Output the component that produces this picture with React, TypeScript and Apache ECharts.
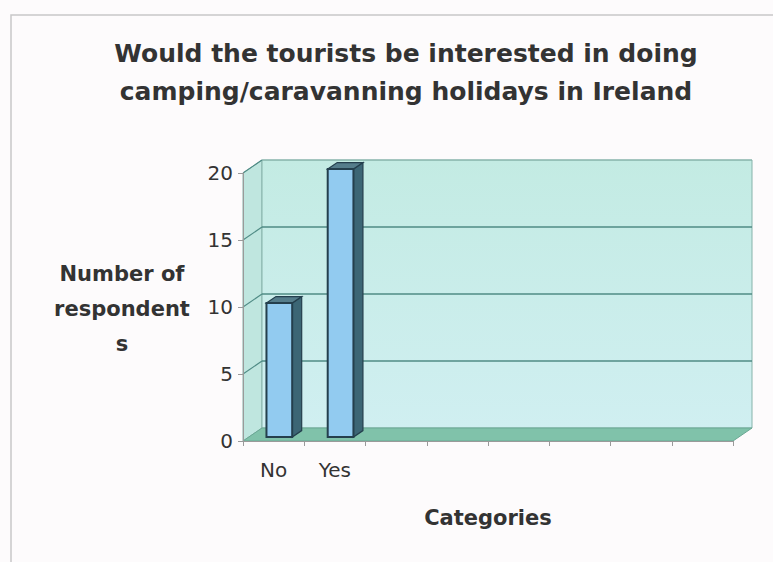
import React, { useEffect, useRef } from "react";
import * as echarts from "echarts";

const categories = ["No", "Yes", "", "", "", "", "", ""];
const respondents = [10, 20];
const yTicks = [0, 5, 10, 15, 20];
const titleLines = [
  "Would the tourists be interested in doing",
  "camping/caravanning holidays in Ireland",
];
const yAxisTitle = ["Number of", "respondent", "s"];
const xAxisTitle = "Categories";

const DX = 19;
const DY = -13;
const FONT = "'DejaVu Sans', 'Liberation Sans', Arial, sans-serif";

export default function App() {
  const ref = useRef<HTMLDivElement>(null);
  useEffect(() => {
    if (!ref.current) return;
    const chart = echarts.init(ref.current, null, { renderer: "svg" });
    const option: any = {
      animation: false,
      backgroundColor: "#fdfbfc",
      title: {
        text: titleLines.join("\n"),
        left: 401,
        top: 29,
        textAlign: "center",
        textStyle: {
          fontFamily: FONT,
          fontSize: 25,
          fontWeight: "bold",
          color: "#333333",
          lineHeight: 38,
        },
      },
      graphic: [
        {
          type: "rect",
          silent: true,
          shape: { x: 11, y: 15, width: 800, height: 600 },
          style: { fill: "none", stroke: "#c8c8c8", lineWidth: 1.5 },
          z: -10,
        },
        {
          type: "text",
          x: 122,
          y: 309,
          style: {
            text: yAxisTitle.join("\n"),
            fontFamily: FONT,
            fontSize: 21,
            fontWeight: "bold",
            fill: "#333333",
            lineHeight: 35,
            align: "center",
            verticalAlign: "middle",
          },
        },
        {
          type: "text",
          x: 488,
          y: 518,
          style: {
            text: xAxisTitle,
            fontFamily: FONT,
            fontSize: 21,
            fontWeight: "bold",
            fill: "#333333",
            align: "center",
            verticalAlign: "middle",
          },
        },
      ],
      grid: { left: 243, right: 40, top: 173, bottom: 121 },
      xAxis: {
        type: "category",
        data: categories,
        axisLine: { show: true, lineStyle: { color: "#9a9a9a", width: 1 } },
        axisTick: { show: true, length: 5, lineStyle: { color: "#9a9a9a" } },
        axisLabel: {
          margin: 19,
          fontFamily: FONT,
          fontSize: 20,
          color: "#333333",
          interval: 0,
        },
        z: 5,
      },
      yAxis: {
        type: "value",
        min: yTicks[0],
        max: yTicks[yTicks.length - 1],
        interval: 5,
        splitLine: { show: false },
        axisLine: { show: true, lineStyle: { color: "#9a9a9a", width: 1 } },
        axisTick: { show: true, length: 5, lineStyle: { color: "#9a9a9a" } },
        axisLabel: {
          margin: 10,
          fontFamily: FONT,
          fontSize: 20,
          color: "#333333",
        },
        z: 5,
      },
      series: [
        {
          type: "custom",
          name: "walls",
          silent: true,
          z: 1,
          data: [[0, 0]],
          renderItem: (params: any, api: any) => {
            const cs = params.coordSys;
            const x0 = cs.x;
            const x1 = cs.x + cs.width;
            const y0 = cs.y;
            const y1 = cs.y + cs.height;
            const children: any[] = [];
            children.push({
              type: "polygon",
              shape: {
                points: [
                  [x0, y1],
                  [x0 + DX, y1 + DY],
                  [x0 + DX, y0 + DY],
                  [x0, y0],
                ],
              },
              style: { fill: "#bfe6df", stroke: "#86b3aa", lineWidth: 1 },
            });
            children.push({
              type: "rect",
              shape: { x: x0 + DX, y: y0 + DY, width: x1 - x0, height: y1 - y0 },
              style: {
                fill: new echarts.graphic.LinearGradient(0, 0, 0, 1, [
                  { offset: 0, color: "#c3ebe3" },
                  { offset: 1, color: "#d0eff1" },
                ]),
                stroke: "#86b3aa",
                lineWidth: 1,
              },
            });
            for (const v of yTicks) {
              if (v === 0) continue;
              const yv = api.coord([0, v])[1];
              children.push({
                type: "line",
                shape: { x1: x0 + DX, y1: yv + DY, x2: x1 + DX, y2: yv + DY },
                style: { stroke: v === 20 ? "#86b3aa" : "#4f8b85", lineWidth: v === 20 ? 1 : 1.6 },
              });
              children.push({
                type: "line",
                shape: { x1: x0, y1: yv, x2: x0 + DX, y2: yv + DY },
                style: { stroke: "#4f8b85", lineWidth: 1.2 },
              });
            }
            children.push({
              type: "polygon",
              shape: {
                points: [
                  [x0, y1],
                  [x1, y1],
                  [x1 + DX, y1 + DY],
                  [x0 + DX, y1 + DY],
                ],
              },
              style: { fill: "#80c2aa", stroke: "#6aa894", lineWidth: 1 },
            });
            return { type: "group", children };
          },
        },
        {
          type: "custom",
          name: "Number of respondents",
          z: 3,
          data: respondents.map((v, i) => [i, v]),
          renderItem: (params: any, api: any) => {
            const idx = api.value(0);
            const val = api.value(1);
            const base = api.coord([idx, 0]);
            const top = api.coord([idx, val]);
            const bw = api.size([1, 0])[0] * 0.42;
            const fx = DX * 0.3;
            const fy = DY * 0.3;
            const bdx = DX * 0.5;
            const bdy = DY * 0.5;
            const xl = base[0] - bw / 2 + fx;
            const xr = xl + bw;
            const yt = top[1] + fy;
            const yb = base[1] + fy;
            const edge = "#243f4d";
            return {
              type: "group",
              children: [
                {
                  type: "polygon",
                  shape: {
                    points: [
                      [xr, yt],
                      [xr + bdx, yt + bdy],
                      [xr + bdx, yb + bdy],
                      [xr, yb],
                    ],
                  },
                  style: { fill: "#3c6675", stroke: edge, lineWidth: 1.2 },
                },
                {
                  type: "polygon",
                  shape: {
                    points: [
                      [xl, yt],
                      [xl + bdx, yt + bdy],
                      [xr + bdx, yt + bdy],
                      [xr, yt],
                    ],
                  },
                  style: { fill: "#557d8b", stroke: edge, lineWidth: 1.2 },
                },
                {
                  type: "rect",
                  shape: { x: xl, y: yt, width: bw, height: yb - yt },
                  style: { fill: "#92cbf0", stroke: edge, lineWidth: 2 },
                },
              ],
            };
          },
        },
      ],
    };
    chart.setOption(option);
    return () => chart.dispose();
  }, []);
  return (
    <div
      ref={ref}
      style={{ position: "absolute", left: 0, top: 0, width: 773, height: 562 }}
    />
  );
}
